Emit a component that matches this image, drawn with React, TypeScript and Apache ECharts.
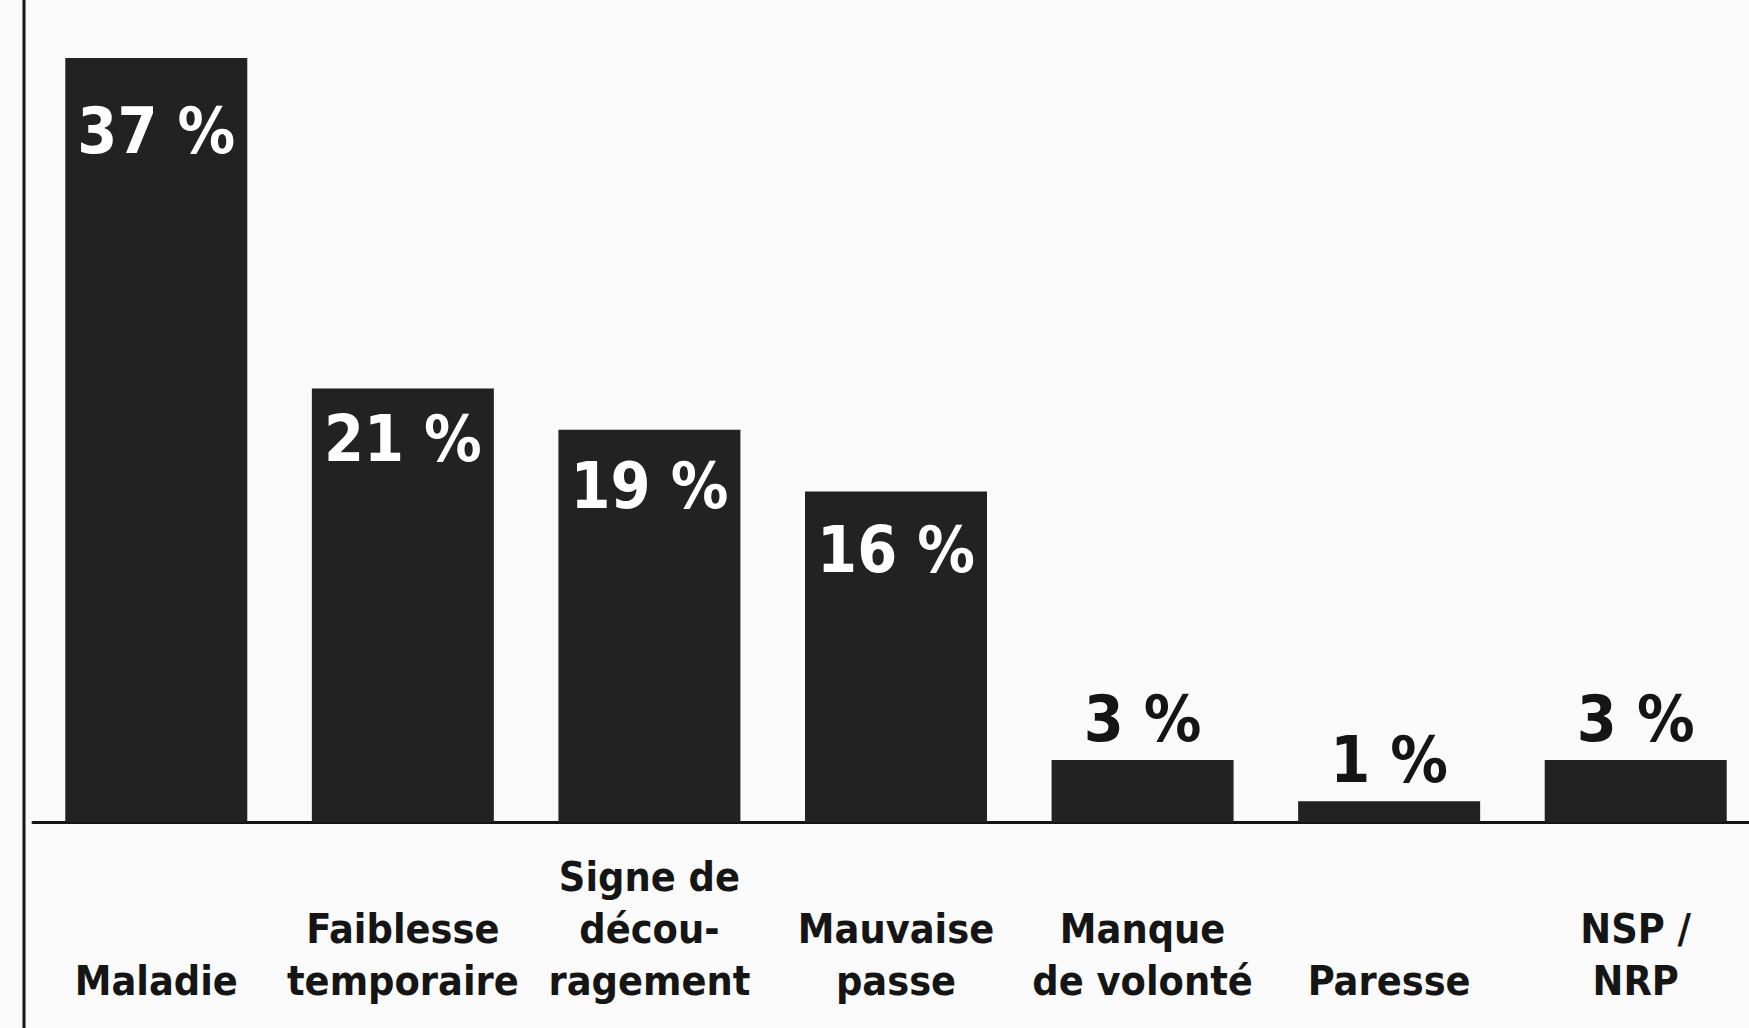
import React, { useEffect, useRef } from "react";
import * as echarts from "echarts";

const categories = [
  "Maladie",
  "Faiblesse\ntemporaire",
  "Signe de\ndécou-\nragement",
  "Mauvaise\npasse",
  "Manque\nde volonté",
  "Paresse",
  "NSP /\nNRP",
];
const values = [37, 21, 19, 16, 3, 1, 3];
const insideLabelOffsets = [41, 19, 24, 26, 0, 0, 0];

const FONT = "'Liberation Sans Narrow', 'DejaVu Sans Condensed', 'Arial Narrow', sans-serif";
const INK = "#151515";
const PAPER = "#fafafa";

export default function App() {
  const ref = useRef<HTMLDivElement>(null);
  useEffect(() => {
    if (!ref.current) return;
    const chart = echarts.init(ref.current, null, { renderer: "svg" });
    const data = values.map((v, i) => {
      const inside = v >= 10;
      return {
        value: v,
        label: inside
          ? {
              position: "insideTop",
              distance: insideLabelOffsets[i],
              color: "#ffffff",
            }
          : { position: "top", distance: 9, color: INK },
      };
    });
    chart.setOption({
      animation: false,
      backgroundColor: PAPER,
      grid: {
        left: 33,
        width: 1726,
        top: 58,
        bottom: 206,
        containLabel: false,
        outerBoundsMode: "none",
      },
      xAxis: {
        type: "category",
        data: categories,
        axisLine: { show: true, lineStyle: { color: INK, width: 3 } },
        axisTick: { show: false },
        axisLabel: {
          interval: 0,
          verticalAlign: "bottom",
          margin: 185,
          fontFamily: FONT,
          fontWeight: "bold",
          fontSize: 41,
          lineHeight: 52,
          color: INK,
        },
      },
      yAxis: {
        type: "value",
        min: 0,
        max: 37,
        show: false,
        splitLine: { show: false },
      },
      series: [
        {
          type: "bar",
          data,
          barWidth: 182,
          itemStyle: { color: "#222222" },
          label: {
            show: true,
            formatter: "{c} %",
            fontFamily: FONT,
            fontWeight: "bold",
            fontSize: 64,
          },
        },
      ],
      graphic: [
        {
          type: "line",
          shape: { x1: 24, y1: 0, x2: 24, y2: 1028 },
          style: { stroke: INK, lineWidth: 3 },
        },
      ],
    });
    return () => chart.dispose();
  }, []);
  return (
    <div
      ref={ref}
      style={{ position: "fixed", left: 0, top: 0, width: 1749, height: 1028 }}
    />
  );
}
